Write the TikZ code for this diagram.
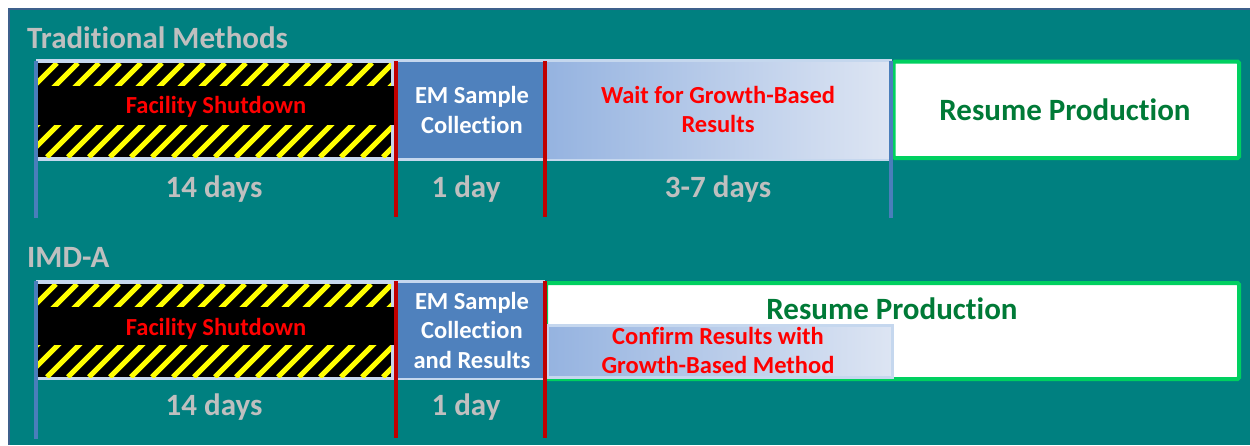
\documentclass[tikz,border=0pt]{standalone}
\usepackage{fontspec}
\setmainfont{Carlito}[Ligatures={CommonOff}]

\definecolor{panel}{RGB}{0,128,128}
\definecolor{paneledge}{RGB}{62,96,140}
\definecolor{greylabel}{RGB}{191,191,191}
\definecolor{emblue}{RGB}{79,129,189}
\definecolor{paleblue}{RGB}{197,215,238}
\definecolor{gradL}{RGB}{149,179,224}
\definecolor{gradR}{RGB}{221,229,243}
\definecolor{hazyellow}{RGB}{255,255,0}
\definecolor{tickred}{RGB}{192,0,0}
\definecolor{tickblue}{RGB}{74,126,187}
\definecolor{goodgreen}{RGB}{0,208,96}
\definecolor{textgreen}{RGB}{0,122,55}

\tikzset{
  big/.style={font=\fontsize{31}{31}\selectfont\bfseries},
  mid/.style={font=\fontsize{24.5}{29}\selectfont\bfseries},
  heading/.style={big, text=greylabel, anchor=base west, inner sep=0},
  duration/.style={big, text=greylabel, anchor=base, inner sep=0},
  redtext/.style={mid, text=red, anchor=base, inner sep=0},
  whitetext/.style={mid, text=white, anchor=base, inner sep=0},
  greentext/.style={big, text=textgreen, anchor=base, inner sep=0},
  box/.style={rectangle, inner sep=0, outer sep=0, anchor=north west},
  tickr/.style={draw=tickred, line width=4pt},
  tickb/.style={draw=tickblue, line width=3.5pt},
  stripe/.style={draw=hazyellow, line width=5pt},
}

\begin{document}
\begin{tikzpicture}[x=1pt,y=-1pt]
\useasboundingbox (0,0) rectangle (1250,445);
\fill[white] (0,0) rectangle (1250,445);

% teal panel with its edge
\fill[panel] (8,8) rectangle (1250,445);
\draw[paneledge, line width=2pt] (9,445) -- (9,9) -- (1250,9);

% ---------------- Traditional Methods ----------------
\node[heading] (h1) at (27,48) {Traditional Methods};

% pale strip behind the phases
\node[box, fill=paleblue, minimum width=856pt, minimum height=102pt] (strip1) at (36,59) {};
% hazard block
\node[box, fill=black, minimum width=353pt, minimum height=94pt] (haz1) at (38,63) {};
\begin{scope}
  \clip (haz1.north west) rectangle (haz1.south east);
  \foreach \x in {-100,-79,...,420}
    \draw[stripe] (\x,157) -- ({\x+94},63);
\end{scope}
\node[box, fill=black, minimum width=359pt, minimum height=39pt] (band1) at (37,86) {};
\node[redtext] (fs1) at (216,113) {Facility Shutdown};

% EM sample collection
\node[box, fill=emblue, minimum width=146pt, minimum height=96pt] (em1) at (397,62) {};
\node[whitetext] (em1a) at (472,103) {EM Sample};
\node[whitetext] (em1b) at (472,133) {Collection};

% waiting for growth-based results
\node[box, left color=gradL, right color=gradR, minimum width=343pt, minimum height=96pt] (wait1) at (546,62) {};
\node[redtext] (w1a) at (718,103) {Wait for Growth-Based};
\node[redtext] (w1b) at (718,132) {Results};

% resume production
\draw[goodgreen, fill=white, line width=4pt, rounded corners=1.5pt] (893.5,61.5) rectangle (1239,158) node[pos=0.5, inner sep=0] (rp1) {};
\node[greentext] (rp1t) at (1065,120) {Resume Production};

% phase boundaries
\coordinate (a1) at (36,61);  \coordinate (a2) at (36,218);
\coordinate (b1) at (396,61); \coordinate (b2) at (396,217);
\coordinate (c1) at (545,61); \coordinate (c2) at (545,217);
\coordinate (d1) at (891,61); \coordinate (d2) at (891,218);
\draw[tickb] (a1) -- (a2);
\draw[tickr] (b1) -- (b2);
\draw[tickr] (c1) -- (c2);
\draw[tickb] (d1) -- (d2);

\node[duration] (d14a) at (214,197) {14 days};
\node[duration] (d1a) at (466,197) {1 day};
\node[duration] (d37) at (718,197) {3-7 days};

% ---------------- IMD-A ----------------
\node[heading] (h2) at (27,267) {IMD-A};

\node[box, fill=paleblue, minimum width=509pt, minimum height=100pt] (strip2) at (36,280) {};
\node[box, fill=black, minimum width=353pt, minimum height=93pt] (haz2) at (38,284) {};
\begin{scope}
  \clip (haz2.north west) rectangle (haz2.south east);
  \foreach \x in {-100,-79,...,420}
    \draw[stripe] (\x,377) -- ({\x+93},284);
\end{scope}
\node[box, fill=black, minimum width=359pt, minimum height=38pt] (band2) at (37,307) {};
\node[redtext] (fs2) at (216,335) {Facility Shutdown};

\node[box, fill=emblue, minimum width=146pt, minimum height=95pt] (em2) at (397,283) {};
\node[whitetext] (em2a) at (472,309) {EM Sample};
\node[whitetext] (em2b) at (472,338) {Collection};
\node[whitetext] (em2c) at (472,368) {and Results};

% resume production with confirmation running alongside
\draw[goodgreen, fill=white, line width=4pt, rounded corners=1.5pt] (546,283) rectangle (1239,379) node[pos=0.5, inner sep=0] (rp2) {};
\node[greentext] (rp2t) at (892,319) {Resume Production};
\node[box, left color=gradL, right color=gradR, draw=paleblue, line width=3pt, minimum width=345pt, minimum height=52pt] (conf) at (547,325) {};
\node[redtext] (cf2a) at (718,344) {Confirm Results with};
\node[redtext] (cf2b) at (718,373) {Growth-Based Method};

\coordinate (e1) at (36,281);  \coordinate (e2) at (36,439);
\coordinate (f1) at (396,281); \coordinate (f2) at (396,438);
\coordinate (g1) at (545,281); \coordinate (g2) at (545,438);
\draw[tickb] (e1) -- (e2);
\draw[tickr] (f1) -- (f2);
\draw[tickr] (g1) -- (g2);

\node[duration] (d14b) at (214,415) {14 days};
\node[duration] (d1b) at (466,415) {1 day};
\end{tikzpicture}
\end{document}
